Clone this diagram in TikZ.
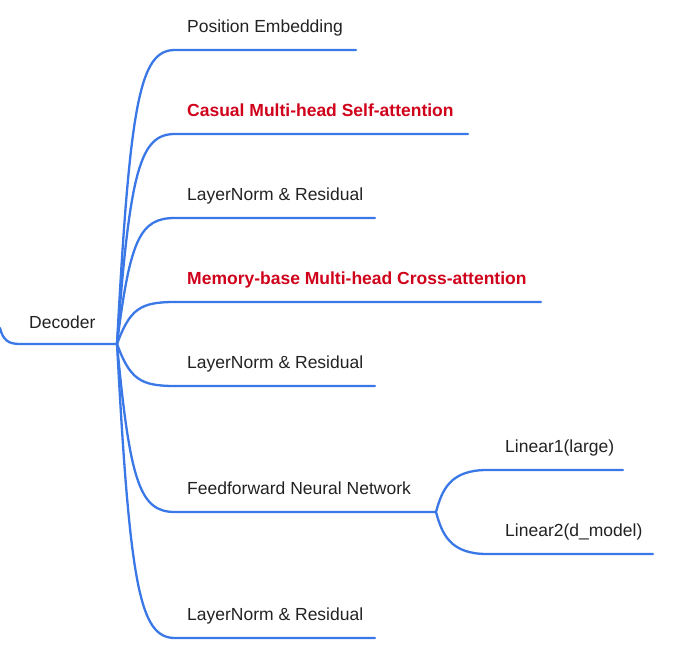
\documentclass[tikz,border=0pt]{standalone}
\usepackage{fontspec}
\setmainfont{Liberation Sans}
\definecolor{lineblue}{RGB}{59,120,231}
\definecolor{txtgray}{RGB}{34,34,34}
\definecolor{hotred}{RGB}{208,2,27}
\begin{document}
\begin{tikzpicture}[x=1pt,y=-1pt,
  branch/.style={draw=lineblue, line width=2.3pt, line cap=round},
  lbl/.style={anchor=base west, inner sep=0pt, font=\fontsize{17.5}{20}\selectfont, text=txtgray},
  hot/.style={lbl, text=hotred, font=\fontsize{17.5}{20}\selectfont\bfseries}]
\useasboundingbox (0,0) rectangle (673,653);

% hub and root
\coordinate (hub) at (117,344);
\coordinate (dec-s) at (0,328);
\node[lbl] (dec) at (29,328) {Decoder};
\draw[branch] (dec-s) .. controls (3,340) and (8,344) .. (20,344) -- (hub);

% line ends
\coordinate (e1) at (356,50);
\coordinate (e2) at (468,134);
\coordinate (e3) at (375,218);
\coordinate (e4) at (541,302);
\coordinate (e5) at (375,386);
\coordinate (sub) at (436,512);
\coordinate (e7) at (375,638);

% branches
\draw[branch] (hub) .. controls (130,100) and (140,50) .. (175,50) -- (e1);
\draw[branch] (hub) .. controls (130,170) and (140,134) .. (175,134) -- (e2);
\draw[branch] (hub) .. controls (130,239) and (140,218) .. (175,218) -- (e3);
\draw[branch] (hub) .. controls (130,309) and (140,302) .. (175,302) -- (e4);
\draw[branch] (hub) .. controls (130,379) and (140,386) .. (175,386) -- (e5);
\draw[branch] (hub) .. controls (130,483) and (140,512) .. (175,512) -- (sub);
\draw[branch] (hub) .. controls (130,588) and (140,638) .. (175,638) -- (e7);

% labels
\node[lbl] (pe)  at (187,32)  {Position Embedding};
\node[hot] (cms) at (187,116) {Casual Multi-head Self-attention};
\node[lbl] (ln1) at (187,200) {LayerNorm \& Residual};
\node[hot] (mca) at (187,284) {Memory-base Multi-head Cross-attention};
\node[lbl] (ln2) at (187,368) {LayerNorm \& Residual};
\node[lbl] (ffn) at (187,494) {Feedforward Neural Network};
\node[lbl] (ln3) at (187,620) {LayerNorm \& Residual};

% sub branches
\coordinate (f1) at (623,470);
\coordinate (f2) at (653,554);
\draw[branch] (sub) .. controls (442,490) and (450,470) .. (487,470) -- (f1);
\draw[branch] (sub) .. controls (442,534) and (450,554) .. (487,554) -- (f2);
\node[lbl] (lin1) at (505,452) {Linear1(large)};
\node[lbl] (lin2) at (505,536) {Linear2(d\_model)};
\end{tikzpicture}
\end{document}
